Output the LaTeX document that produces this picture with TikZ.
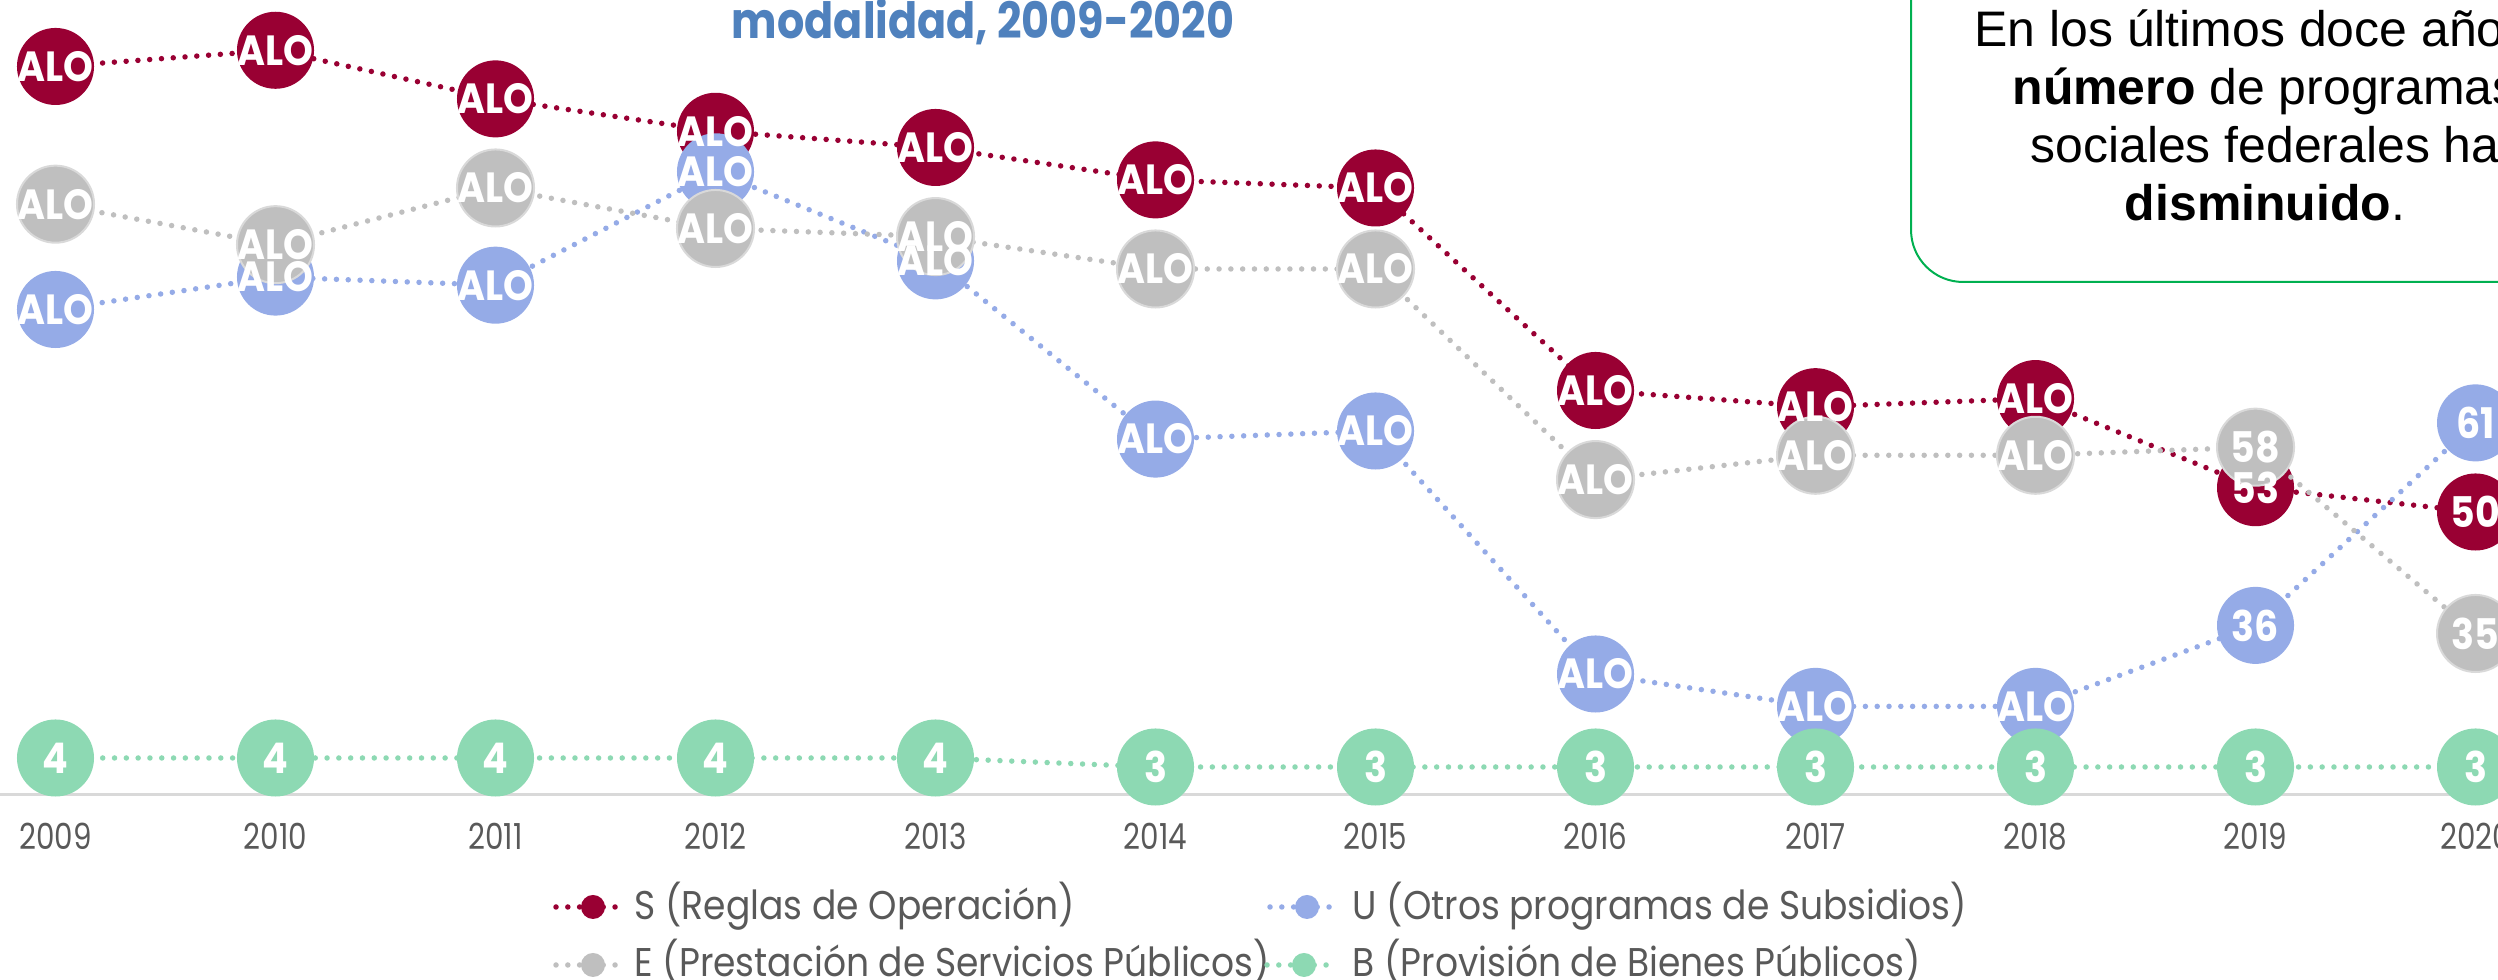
\documentclass[tikz,border=0pt]{standalone}
\usepackage{fontspec}
\setmainfont{Poppins}[FakeStretch=0.9]
\newfontfamily\aniofont{Poppins}[FakeStretch=0.82]
\newfontfamily\titfont{Poppins}[FakeStretch=0.86]
\newfontfamily\cajafont{Liberation Sans}

\definecolor{regla}{HTML}{990033}
\definecolor{subsidio}{HTML}{95ABE7}
\definecolor{servicio}{HTML}{BFBFBF}
\definecolor{bienes}{HTML}{8DD9B3}
\definecolor{titulo}{HTML}{4F81BD}
\definecolor{recuadro}{HTML}{00B050}
\definecolor{texto}{HTML}{595959}
\definecolor{eje}{HTML}{D9D9D9}

\tikzset{
  serie/.style={line width=0.055cm, dash pattern=on 0pt off 0.118cm, line cap=round},
  punto/.style={circle, fill=#1, minimum size=0.77cm, inner sep=0pt},
  etiqueta/.style={text=white, font=\fontsize{12}{12}\selectfont\bfseries, inner sep=0pt},
  anio/.style={text=texto, font=\aniofont\fontsize{10.2}{11}\selectfont, anchor=base, inner sep=0pt},
  leyenda/.style={text=texto, font=\fontsize{11.4}{12}\selectfont, anchor=base west, inner sep=0pt},
  caja/.style={anchor=base, font=\cajafont\fontsize{14.2}{16}\selectfont, inner sep=0pt},
}

\begin{document}
\begin{tikzpicture}[x=0.01cm, y=0.01cm]
\useasboundingbox (0,0) rectangle (2498,980);
\clip (0,0) rectangle (2498,980);

% eje horizontal
\coordinate (ejeA) at (0,185);
\coordinate (ejeB) at (2498,185);
\draw[eje, line width=0.03cm] (ejeA) -- (ejeB);

\foreach \t [count=\i] in {2009,2010,2011,2012,2013,2014,2015,2016,2017,2018,2019,2020}
  \node[anio] (a\i) at ({55.5+220*(\i-1)},130) {\t};

% S (Reglas de Operacion)
\foreach \v [count=\i] in {105,107,101,97,95,91,90,65,63,64,53,50}
  \coordinate (s\i) at ({55.5+220*(\i-1)},{63+8.1*\v});
\draw[serie, regla] (s1) \foreach \i in {2,...,12} {-- (s\i)};
\foreach \i in {1,...,12} \node[punto=regla] (ms\i) at (s\i) {};

% U (Otros programas de Subsidios)
\foreach \v [count=\i] in {75,79,78,92,81,59,60,30,26,26,36,61}
  \coordinate (u\i) at ({55.5+220*(\i-1)},{63+8.1*\v});
\draw[serie, subsidio] (u1) \foreach \i in {2,...,12} {-- (u\i)};
\foreach \i in {1,...,12} \node[punto=subsidio] (mu\i) at (u\i) {};

% E (Prestacion de Servicios Publicos)
\foreach \v [count=\i] in {88,83,90,85,84,80,80,54,57,57,58,35}
  \coordinate (e\i) at ({55.5+220*(\i-1)},{63+8.1*\v});
\draw[serie, servicio] (e1) \foreach \i in {2,...,12} {-- (e\i)};
\foreach \i in {1,...,12} \node[punto=servicio, draw=eje, line width=0.02cm] (me\i) at (e\i) {};

% B (Provision de Bienes Publicos), eje secundario
\foreach \v [count=\i] in {4,4,4,4,4,3,3,3,3,3,3,3}
  \coordinate (b\i) at ({55.5+220*(\i-1)},{186+9*\v});
\draw[serie, bienes] (b1) \foreach \i in {2,...,12} {-- (b\i)};
\foreach \i in {1,...,12} \node[punto=bienes] (mb\i) at (b\i) {};

% etiquetas de datos
\foreach \t [count=\i] in {ALO,ALO,ALO,ALO,ALO,ALO,ALO,ALO,ALO,ALO,53,50}
  \node[etiqueta] (ls\i) at (s\i) {\t};
\foreach \t [count=\i] in {ALO,ALO,ALO,ALO,ALO,ALO,ALO,ALO,ALO,ALO,36,61}
  \node[etiqueta] (lu\i) at (u\i) {\t};
\foreach \t [count=\i] in {ALO,ALO,ALO,ALO,ALO,ALO,ALO,ALO,ALO,ALO,58,35}
  \node[etiqueta] (le\i) at (e\i) {\t};
\foreach \t [count=\i] in {4,4,4,4,4,3,3,3,3,3,3,3}
  \node[etiqueta] (lb\i) at (b\i) {\t};

% titulo
\node[anchor=base, text=titulo, font=\titfont\fontsize{14.2}{15}\selectfont\bfseries, inner sep=0pt]
  (tit) at (983,941) {modalidad, 2009-2020};

% recuadro
\draw[recuadro, line width=0.02cm, rounded corners=0.52cm] (1911,698) rectangle (2620,1040);
\node[caja] (c1) at (2252,933) {En los últimos doce años};
\node[caja] (c2) at (2265,875) {\textbf{número} de programas};
\node[caja] (c3) at (2265,817) {sociales federales ha};
\node[caja] (c4) at (2265,759) {\textbf{disminuido}.};

% leyenda
\coordinate (ls1a) at (556,73);  \coordinate (ls1b) at (626,73);
\draw[serie, regla] (ls1a) -- (ls1b);
\node[punto=regla, minimum size=0.24cm] (ps) at (593,73) {};
\node[leyenda] (ts) at (634,60) {S (Reglas de Operación)};

\coordinate (lu1a) at (1270,73); \coordinate (lu1b) at (1340,73);
\draw[serie, subsidio] (lu1a) -- (lu1b);
\node[punto=subsidio, minimum size=0.24cm] (pu) at (1307,73) {};
\node[leyenda] (tu) at (1352,60) {U (Otros programas de Subsidios)};

\coordinate (le1a) at (556,15);  \coordinate (le1b) at (626,15);
\draw[serie, servicio] (le1a) -- (le1b);
\node[punto=servicio, minimum size=0.24cm] (pe) at (593,15) {};
\node[leyenda] (te) at (634,3) {E (Prestación de Servicios Públicos)};

\coordinate (lb1a) at (1267,15); \coordinate (lb1b) at (1337,15);
\draw[serie, bienes] (lb1a) -- (lb1b);
\node[punto=bienes, minimum size=0.24cm] (pb) at (1304,15) {};
\node[leyenda] (tb) at (1352,3) {B (Provisión de Bienes Públicos)};
\end{tikzpicture}
\end{document}
